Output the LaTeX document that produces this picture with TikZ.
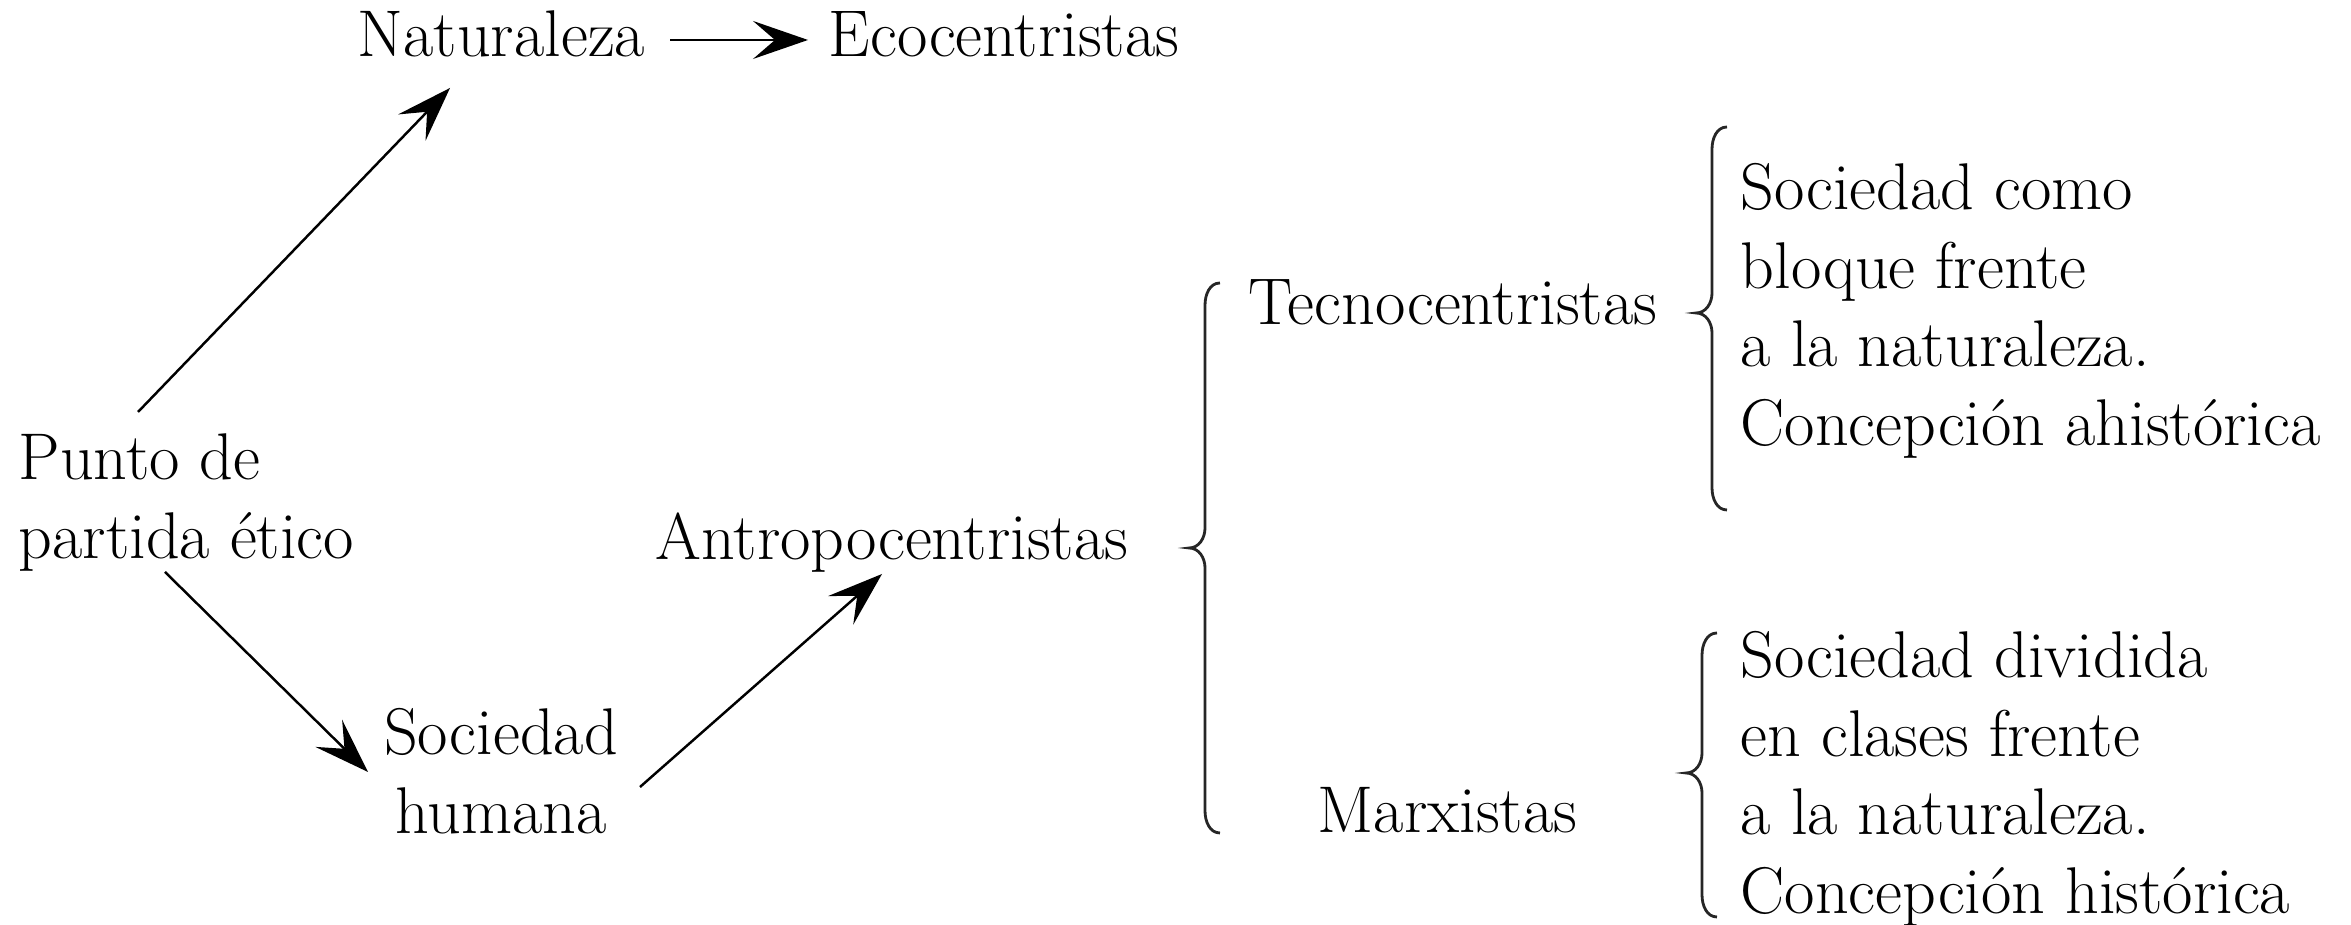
\documentclass[tikz,border=0pt]{standalone}
\usetikzlibrary{arrows.meta,calc}
\newcommand\mylines[1]{\begin{tabular}[t]{@{}l@{}}#1\end{tabular}}
\newcommand\myclines[1]{\begin{tabular}[t]{@{}c@{}}#1\end{tabular}}
\newcommand\mybrace[4]{\draw[brc] (#1+0.15,#2) to[out=180,in=90] (#1,#2-0.22) -- (#1,#3+0.2) to[out=-90,in=0] (#1-0.16,#3) to[out=0,in=90] (#1,#3-0.2) -- (#1,#4+0.22) to[out=-90,in=180] (#1+0.15,#4);}
\begin{document}
\begin{tikzpicture}[
  lbl/.style={inner sep=0pt, font=\fontsize{18.8}{22.3}\selectfont},
  arr/.style={line width=0.7pt, -{Stealth[length=5.5mm,width=3.8mm,inset=2.2mm]}},
  brc/.style={line width=0.8pt, black!85},
]
\useasboundingbox (0,0) rectangle (23.51,9.25);
\node[lbl, anchor=base west] (natur) at (3.57,8.68) {Naturaleza};
\node[lbl, anchor=base west] (eco) at (8.28,8.68) {Ecocentristas};
\node[lbl, anchor=base west] (punto) at (0.18,4.45) {\mylines{Punto de\\partida ético}};
\node[lbl, anchor=base] (soc) at (5.01,1.70) {\myclines{Sociedad\\humana}};
\node[lbl, anchor=base west] (antro) at (6.55,3.65) {Antropocentristas};
\node[lbl, anchor=base west] (tecno) at (12.48,6.00) {Tecnocentristas};
\node[lbl, anchor=base west] (marx) at (13.17,0.92) {Marxistas};
\node[lbl, anchor=base west] (blk1) at (17.40,7.15) {\mylines{Sociedad como\\bloque frente\\a la naturaleza.\\Concepción ahistórica}};
\node[lbl, anchor=base west] (blk2) at (17.40,2.47) {\mylines{Sociedad dividida\\en clases frente\\a la naturaleza.\\Concepción histórica}};
\draw[arr] ($(punto.base west)+(1.20,0.68)$) -- ($(natur.base west)+(0.93,-0.31)$);
\draw[arr] ($(punto.base west)+(1.47,-0.92)$) -- ($(soc.base)+(-1.33,-0.17)$);
\draw[arr] ($(soc.base)+(1.39,-0.32)$) -- ($(antro.base west)+(2.27,-0.14)$);
\draw[arr] ($(natur.base west)+(3.13,0.17)$) -- ($(eco.base west)+(-0.20,0.17)$);
\mybrace{12.05}{6.42}{3.77}{0.92}
\mybrace{17.12}{7.98}{6.12}{4.15}
\mybrace{17.02}{2.92}{1.52}{0.08}
\end{tikzpicture}
\end{document}
